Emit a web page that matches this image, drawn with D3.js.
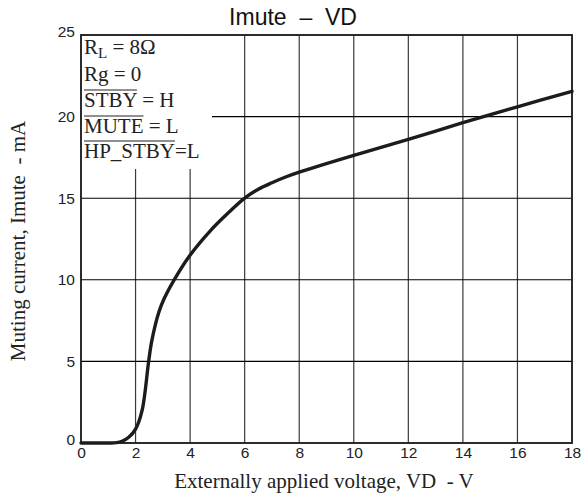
<!DOCTYPE html>
<html><head><meta charset="utf-8">
<script src="https://cdn.jsdelivr.net/npm/d3@7/dist/d3.min.js"></script>
<style>body{margin:0;background:#fff}svg{display:block}</style></head>
<body>
<svg id="chart" width="581" height="498"></svg>
<script>
// ---- data ----
const vd    = [0, 1.0, 1.3, 1.5, 1.75, 2.0, 2.24, 2.48, 2.6, 2.85, 3.05, 3.4, 3.95, 4.74, 5.4, 6.0, 6.5, 7.0, 7.5, 8.0, 10, 12, 14, 16, 18];
const imute = [0, 0, 0.02, 0.1, 0.35, 0.85, 2.0, 5.0, 6.3, 8.0, 8.85, 9.95, 11.4, 13.0, 14.1, 15.0, 15.55, 15.95, 16.3, 16.6, 17.63, 18.6, 19.63, 20.6, 21.55];
const xTicks = [0, 2, 4, 6, 8, 10, 12, 14, 16, 18];
const yTicks = [0, 5, 10, 15, 20, 25];
const titleText = "Imute  \u2013  VD";
const xLabel = "Externally applied voltage, VD  - V";
const yLabel = "Muting current, Imute  - mA";

const svg = d3.select("#chart");
const L = 81, R = 572, T = 35, B = 443;
const x = d3.scaleLinear().domain([0, 18]).range([L, R]);
const y = d3.scaleLinear().domain([0, 25]).range([B, T]);

// grid
svg.append("g").selectAll("line").data(xTicks.filter(d => d > 0 && d < 18)).join("line")
  .attr("x1", d => x(d)).attr("x2", d => x(d)).attr("y1", T).attr("y2", B)
  .attr("stroke", "#3a3a3a").attr("stroke-width", 1.2);
svg.append("g").selectAll("line").data(yTicks.filter(d => d > 0 && d < 25)).join("line")
  .attr("x1", L).attr("x2", R).attr("y1", d => y(d)).attr("y2", d => y(d))
  .attr("stroke", "#000").attr("stroke-width", 1.1);

// annotation background
svg.append("rect").attr("x", L + 1).attr("y", T + 1).attr("width", 130).attr("height", 133).attr("fill", "#fff");

// frame
svg.append("rect").attr("x", L).attr("y", T).attr("width", R - L).attr("height", B - T)
  .attr("fill", "none").attr("stroke", "#222").attr("stroke-width", 1.9);

// curve
const pts = vd.map((v, i) => [v, imute[i]]);
svg.append("path").datum(pts)
  .attr("d", d3.line().x(d => x(d[0])).y(d => y(Math.max(0, d[1]))).curve(d3.curveCatmullRom.alpha(0.5)))
  .attr("fill", "none").attr("stroke", "#1c1c1c").attr("stroke-width", 3.4)
  .attr("stroke-linejoin", "round").attr("stroke-linecap", "round");

// axes (labels only)
const xa = svg.append("g").attr("transform", `translate(0,${B})`)
  .call(d3.axisBottom(x).tickValues(xTicks).tickSize(0).tickPadding(4));
xa.select(".domain").remove();
xa.selectAll("text").attr("font-family", "Liberation Sans, Arial, sans-serif").attr("font-size", 15.5).attr("fill", "#222");

const ya = svg.append("g").attr("transform", `translate(${L - 6},0)`)
  .call(d3.axisLeft(y).tickValues(yTicks).tickSize(0).tickPadding(0));
ya.select(".domain").remove();
ya.selectAll("text").attr("font-family", "Liberation Sans, Arial, sans-serif").attr("font-size", 15.5).attr("fill", "#222")
  .attr("dy", d => (d === 0 || d === 25) ? "0.12em" : "0.32em");

// title
svg.append("text").attr("x", 293).attr("y", 25).attr("text-anchor", "middle")
  .attr("font-family", "Liberation Sans, Arial, sans-serif").attr("font-size", 23).attr("fill", "#111")
  .style("white-space", "pre").text(titleText);

// axis titles
svg.append("text").attr("x", 324).attr("y", 488).attr("text-anchor", "middle")
  .attr("font-family", "Liberation Serif, Times New Roman, serif").attr("font-size", 21).attr("fill", "#222")
  .style("white-space", "pre").text(xLabel);
svg.append("text").attr("transform", "translate(25,241) rotate(-90)").attr("text-anchor", "middle")
  .attr("font-family", "Liberation Serif, Times New Roman, serif").attr("font-size", 21).attr("fill", "#222")
  .style("white-space", "pre").text(yLabel);

// annotation text
const ann = svg.append("g").attr("font-family", "Liberation Serif, Times New Roman, serif")
  .attr("font-size", 21).attr("fill", "#222");
const tx = 84;
const t1 = ann.append("text").attr("x", tx).attr("y", 54);
t1.append("tspan").text("R");
t1.append("tspan").attr("font-size", 15).attr("dy", 4).text("L");
t1.append("tspan").attr("dy", -4).text(" = 8\u03A9");
ann.append("text").attr("x", tx).attr("y", 81).text("Rg = 0");
const bars = [["STBY", " = H", 107], ["MUTE", " = L", 133], ["HP_STBY", "=L", 158]];
bars.forEach(([name, rest, by]) => {
  const t = ann.append("text").attr("x", tx).attr("y", by);
  const n = t.append("tspan").text(name);
  t.append("tspan").text(rest);
  const w = n.node().getComputedTextLength();
  ann.append("line").attr("x1", tx).attr("x2", tx + w).attr("y1", by - 17).attr("y2", by - 17)
    .attr("stroke", "#222").attr("stroke-width", 1.1);
});
</script>
</body></html>
